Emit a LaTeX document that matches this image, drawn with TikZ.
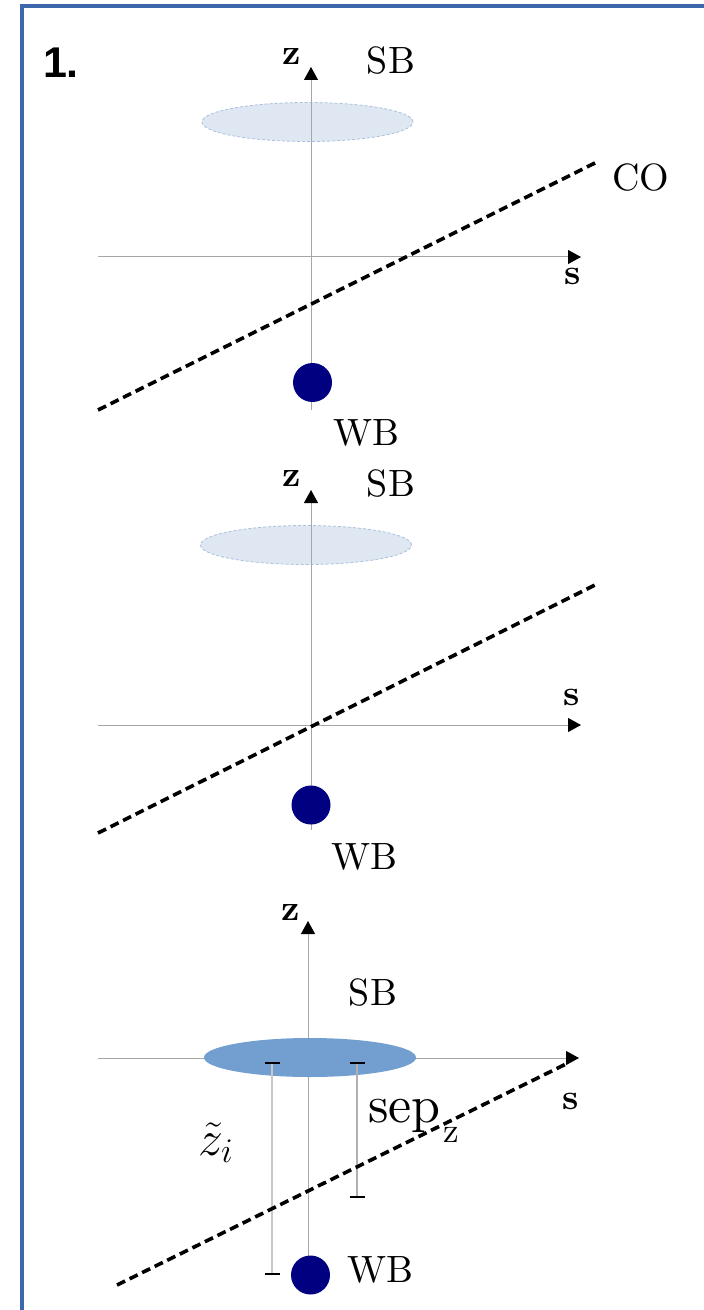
\documentclass[tikz,border=0pt]{standalone}
\usepackage{fontspec}
\newfontfamily\headfont{Liberation Sans}
\newfontfamily\cmten{lmroman10-regular.otf}[BoldFont=lmroman10-bold.otf, ItalicFont=lmroman10-italic.otf]
\usetikzlibrary{arrows.meta,shapes.geometric}
\definecolor{framecol}{RGB}{58,104,170}
\definecolor{axiscol}{RGB}{166,166,166}
\definecolor{paleblue}{RGB}{222,231,242}
\definecolor{paleedge}{RGB}{170,192,222}
\definecolor{sbblue}{RGB}{114,159,207}
\definecolor{wbnavy}{RGB}{0,0,128}
\definecolor{barcol}{RGB}{200,200,200}
\definecolor{barcoldark}{RGB}{176,176,176}
\tikzset{
  axis/.style={draw=axiscol, line width=0.5pt, -{Triangle[length=6.5pt,width=7pt,color=black]}},
  coline/.style={line width=1.8pt, dash pattern=on 4.5pt off 2.5pt},
  lbl/.style={font=\cmten\fontsize{19}{19}\selectfont, inner sep=0},
  axlbl/.style={font=\cmten\fontsize{18}{18}\selectfont\bfseries, inner sep=0},
  sbpale/.style={ellipse, minimum width=105.5pt, minimum height=19.5pt, inner sep=0,
                 fill=paleblue, draw=paleedge, line width=0.4pt, dash pattern=on 1.5pt off 1pt},
  sbsolid/.style={ellipse, minimum width=106pt, minimum height=19.5pt, inner sep=0, fill=sbblue},
  wbdot/.style={circle, fill=wbnavy, minimum size=19.5pt, inner sep=0},
  tickmark/.style={line width=1pt, black},
  bar/.style={line width=0.6pt},
}
\begin{document}
\begin{tikzpicture}[x=0.5pt,y=-0.5pt]
\useasboundingbox (0,0) rectangle (704,1310);

% outer frame (open to the right and bottom)
\coordinate (fbl) at (21.5,1310);
\coordinate (ftl) at (21.5,6.5);
\coordinate (ftr) at (704,6.5);
\draw[framecol, line width=2pt] (fbl) -- (ftl) -- (ftr);

\node[font=\headfont\bfseries\fontsize{21.5}{21.5}\selectfont, inner sep=0] (num) at (61,62.5) {1.};

% ---------------- panel 1 ----------------
\node[sbpale] (sb1) at (307.5,122) {};
\coordinate (z1b) at (311,410);
\coordinate (z1t) at (311,67);
\draw[axis] (z1b) -- (z1t);
\coordinate (s1l) at (98,257);
\coordinate (s1r) at (581,257);
\draw[axis] (s1l) -- (s1r);
\coordinate (co1a) at (98,410);
\coordinate (co1b) at (597,162);
\draw[coline] (co1a) -- (co1b);
\node[wbdot] (wb1) at (312.5,382.5) {};
\node[axlbl] (zl1) at (292,57) {z};
\node[lbl] (sbl1) at (391,60.5) {SB};
\node[axlbl] (sl1) at (573,276) {s};
\node[lbl] (col1) at (641,177.5) {CO};
\node[lbl] (wbl1) at (366,433) {WB};

% ---------------- panel 2 ----------------
\node[sbpale] (sb2) at (306,545) {};
\coordinate (z2b) at (311,830);
\coordinate (z2t) at (311,490);
\draw[axis] (z2b) -- (z2t);
\coordinate (s2l) at (98,725);
\coordinate (s2r) at (581,725);
\draw[axis] (s2l) -- (s2r);
\coordinate (co2a) at (98,833);
\coordinate (co2b) at (595,585);
\draw[coline] (co2a) -- (co2b);
\node[wbdot] (wb2) at (311,805) {};
\node[axlbl] (zl2) at (292,479) {z};
\node[lbl] (sbl2) at (391,483.5) {SB};
\node[axlbl] (sl2) at (572,697) {s};
\node[lbl] (wbl2) at (364,857) {WB};

% ---------------- panel 3 ----------------
\coordinate (z3b) at (308,1262);
\coordinate (z3t) at (308,921);
\draw[axis] (z3b) -- (z3t);
\coordinate (s3l) at (98,1058);
\coordinate (s3r) at (579,1058);
\draw[axis] (s3l) -- (s3r);
\node[sbsolid] (sb3) at (310,1057.5) {};

% measuring bars with end ticks
\coordinate (b1t) at (272,1062.5);
\coordinate (b1b) at (272,1274);
\coordinate (b2t) at (357,1062.5);
\coordinate (b2b) at (357,1197);
\draw[bar, barcol] (b1t) -- (b1b);
\draw[bar, barcoldark] (b2t) -- (b2b);
\foreach \p in {b1t,b1b,b2t,b2b}{
  \draw[tickmark] ([xshift=-3.75pt]\p) -- ([xshift=3.75pt]\p);
}

\coordinate (co3a) at (117,1285);
\coordinate (co3b) at (566,1064);
\draw[coline] (co3a) -- (co3b);
\node[wbdot] (wb3) at (310.5,1275) {};

\node[axlbl] (zl3) at (291,912) {z};
\node[lbl] (sbl3) at (373,993) {SB};
\node[axlbl] (sl3) at (571,1101) {s};
\node[lbl] (wbl3) at (380,1270) {WB};
\node[font=\cmten\fontsize{26}{26}\selectfont, inner sep=0, anchor=base west] (sep) at (368,1122) {sep};
\node[font=\cmten\fontsize{17.5}{17.5}\selectfont, inner sep=0, anchor=base west] (sepsub) at (443,1142) {z};
\node[font=\fontsize{26}{26}\selectfont, inner sep=0, anchor=base west] (zi) at (198,1155) {$\tilde{z}_i$};
\end{tikzpicture}
\end{document}
